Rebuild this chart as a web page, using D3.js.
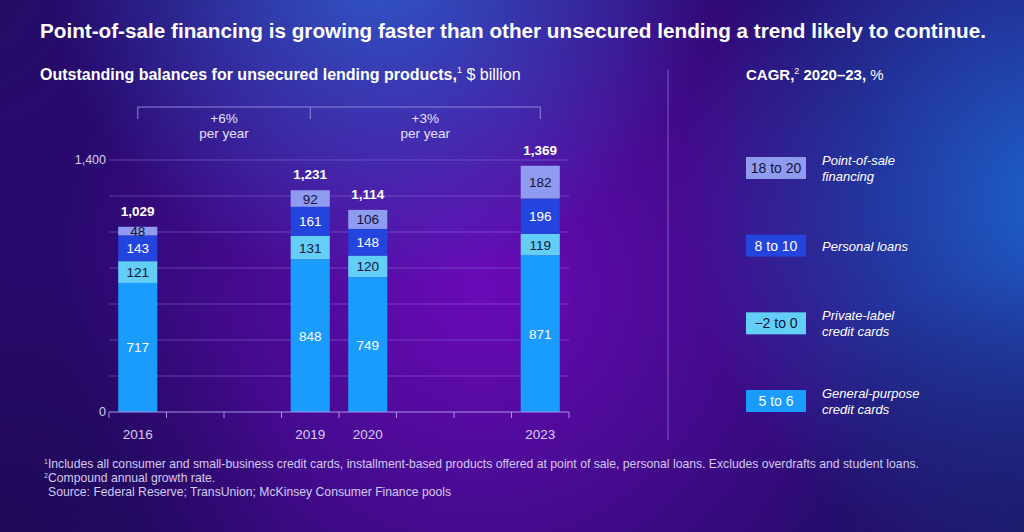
<!DOCTYPE html>
<meta charset="utf-8">
<title>Unsecured lending</title>
<style>
  html, body { margin: 0; padding: 0; background: #2a0a78; }
  svg { display: block; font-family: "Liberation Sans", Arial, sans-serif; }
</style>
<body>
<div id="chart"></div>
<script src="https://d3js.org/d3.v7.min.js"></script>
<script>

// data
var years = ["2016", "2017", "2018", "2019", "2020", "2021", "2022", "2023"];
var shownYears = ["2016", "2019", "2020", "2023"];
var generalPurpose = [717, 848, 749, 871];
var privateLabel = [121, 131, 120, 119];
var personalLoans = [143, 161, 148, 196];
var pointOfSale = [48, 92, 106, 182];
var totals = ["1,029", "1,231", "1,114", "1,369"];
var yTicks = [0, 200, 400, 600, 800, 1000, 1200, 1400];
var yTickLabels = {0: "0", 1400: "1,400"};

var seriesNames = ["General-purpose credit cards", "Private-label credit cards", "Personal loans", "Point-of-sale financing"];
var seriesColors = ["#1a9cfd", "#63cff6", "#2444de", "#8f9bee"];
var labelColors = ["#ffffff", "#13123a", "#ffffff", "#13123a"];

// legend, top to bottom
var legendRanges = ["18 to 20", "8 to 10", "\u22122 to 0", "5 to 6"];
var legendLines = [["Point-of-sale", "financing"], ["Personal loans"], ["Private-label", "credit cards"], ["General-purpose", "credit cards"]];
var legendSeries = [3, 2, 1, 0];

var periods = [
  {from: "2016", to: "2019", label: "+6%"},
  {from: "2019", to: "2023", label: "+3%"}
];

var W = 1024, H = 532;

var svg = d3.select("#chart").append("svg")
    .attr("width", W)
    .attr("height", H);

// background: layered gradients
var defs = svg.append("defs");
function radial(id, cx, cy, r, color, op) {
  var g = defs.append("radialGradient").attr("id", id)
      .attr("gradientUnits", "userSpaceOnUse")
      .attr("cx", cx).attr("cy", cy).attr("r", r);
  g.append("stop").attr("offset", "0%").attr("stop-color", color).attr("stop-opacity", op);
  g.append("stop").attr("offset", "100%").attr("stop-color", color).attr("stop-opacity", 0);
  svg.append("rect").attr("width", W).attr("height", H).attr("fill", "url(#" + id + ")");
}
svg.append("rect").attr("width", W).attr("height", H).attr("fill", "#280a6e");
radial("bgPurple", 480, 290, 420, "#6a0ab8", 1);
radial("bgTop", 380, -40, 330, "#2f5ccc", 0.95);
radial("bgRight", 1060, 200, 380, "#1c62cc", 1);
radial("bgBL", 0, 540, 300, "#1c0850", 0.8);
radial("bgTL", -40, -20, 160, "#201060", 0.8);
radial("bgBR", 1024, 532, 260, "#18206a", 0.7);

// titles
svg.append("text")
    .attr("x", 40).attr("y", 38)
    .attr("fill", "#ffffff")
    .attr("font-size", 20.7).attr("font-weight", "bold")
    .text("Point-of-sale financing is growing faster than other unsecured lending a trend likely to continue.");

var sub = svg.append("text")
    .attr("x", 40).attr("y", 80)
    .attr("fill", "#ffffff")
    .attr("font-size", 16);
sub.append("tspan").attr("font-weight", "bold").text("Outstanding balances for unsecured lending products,");
sub.append("tspan").attr("font-size", 9).attr("dy", -7).text("1");
sub.append("tspan").attr("dy", 7).text(" $ billion");

var cagr = svg.append("text")
    .attr("x", 746).attr("y", 80)
    .attr("fill", "#ffffff")
    .attr("font-size", 15);
cagr.append("tspan").attr("font-weight", "bold").text("CAGR,");
cagr.append("tspan").attr("font-size", 9).attr("dy", -6).text("2");
cagr.append("tspan").attr("dy", 6).attr("font-weight", "bold").text(" 2020\u201323,");
cagr.append("tspan").text(" %");

// divider
svg.append("line")
    .attr("x1", 668).attr("x2", 668)
    .attr("y1", 70).attr("y2", 440)
    .attr("stroke", "#9c8fe0").attr("stroke-opacity", 0.6);

// scales
var x = d3.scaleBand()
    .domain(years)
    .range([109, 569])
    .paddingInner(0.32)
    .paddingOuter(0.16);

var y = d3.scaleLinear()
    .domain([0, 1400])
    .range([412, 160]);

// gridlines
svg.append("g").selectAll("line")
  .data(yTicks.slice(1))
  .enter().append("line")
    .attr("x1", x.range()[0]).attr("x2", x.range()[1])
    .attr("y1", function(d) { return y(d); })
    .attr("y2", function(d) { return y(d); })
    .attr("stroke", "#9a7de0").attr("stroke-opacity", 0.45);

// y labels
svg.append("g").selectAll("text")
  .data(yTicks.filter(function(d) { return yTickLabels[d] !== undefined; }))
  .enter().append("text")
    .attr("x", 106)
    .attr("y", function(d) { return y(d) + 4; })
    .attr("text-anchor", "end")
    .attr("fill", "#d6cdf2")
    .attr("font-size", 12.5)
    .text(function(d) { return yTickLabels[d]; });

// stack
var rows = shownYears.map(function(yr, i) {
  return {year: yr, s0: generalPurpose[i], s1: privateLabel[i], s2: personalLoans[i], s3: pointOfSale[i], total: totals[i]};
});
var keys = ["s0", "s1", "s2", "s3"];
var stacked = d3.stack().keys(keys)(rows);

var layers = svg.append("g").selectAll("g")
  .data(stacked)
  .enter().append("g")
    .attr("fill", function(d, i) { return seriesColors[i]; });

layers.selectAll("rect")
  .data(function(d) { return d; })
  .enter().append("rect")
    .attr("x", function(d) { return x(d.data.year); })
    .attr("width", x.bandwidth())
    .attr("y", function(d) { return y(d[1]); })
    .attr("height", function(d) { return y(d[0]) - y(d[1]); });

layers.each(function(layer, li) {
  d3.select(this).selectAll("text")
    .data(layer)
    .enter().append("text")
      .attr("x", function(d) { return x(d.data.year) + x.bandwidth() / 2; })
      .attr("y", function(d) { return (y(d[0]) + y(d[1])) / 2 + 5; })
      .attr("text-anchor", "middle")
      .attr("fill", labelColors[li])
      .attr("font-size", 13.5)
      .text(function(d) { return d[1] - d[0]; });
});

// totals
svg.append("g").selectAll("text")
  .data(stacked[3])
  .enter().append("text")
    .attr("x", function(d) { return x(d.data.year) + x.bandwidth() / 2; })
    .attr("y", function(d) { return y(d[1]) - 11; })
    .attr("text-anchor", "middle")
    .attr("fill", "#ffffff")
    .attr("font-size", 13.5)
    .attr("font-weight", "bold")
    .text(function(d) { return d.data.total; });

// x axis
var axis = svg.append("g");
axis.append("line")
    .attr("x1", x.range()[0]).attr("x2", x.range()[1])
    .attr("y1", y(0)).attr("y2", y(0))
    .attr("stroke", "#a594e6");
axis.selectAll(".tick")
  .data(d3.range(years.length + 1))
  .enter().append("line")
    .attr("x1", function(i) { return x.range()[0] + i * x.step(); })
    .attr("x2", function(i) { return x.range()[0] + i * x.step(); })
    .attr("y1", y(0)).attr("y2", y(0) + 6)
    .attr("stroke", "#a594e6");
axis.selectAll("text")
  .data(shownYears)
  .enter().append("text")
    .attr("x", function(d) { return x(d) + x.bandwidth() / 2; })
    .attr("y", 439)
    .attr("text-anchor", "middle")
    .attr("fill", "#d6cdf2")
    .attr("font-size", 13.5)
    .text(function(d) { return d; });

// growth brackets
var bracketY = 107;
var bracket = svg.append("g");
var cx = function(yr) { return x(yr) + x.bandwidth() / 2; };
bracket.append("line")
    .attr("x1", cx(periods[0].from)).attr("x2", cx(periods[periods.length - 1].to))
    .attr("y1", bracketY).attr("y2", bracketY)
    .attr("stroke", "#8f86dc");
var ends = [periods[0].from].concat(periods.map(function(p) { return p.to; }));
bracket.selectAll(".end")
  .data(ends)
  .enter().append("line")
    .attr("x1", cx).attr("x2", cx)
    .attr("y1", bracketY).attr("y2", bracketY + 12)
    .attr("stroke", "#8f86dc");
var plabels = bracket.selectAll(".pl")
  .data(periods)
  .enter().append("text")
    .attr("x", function(p) { return (cx(p.from) + cx(p.to)) / 2; })
    .attr("y", 123)
    .attr("text-anchor", "middle")
    .attr("fill", "#e6e0fa")
    .attr("font-size", 13.5);
plabels.append("tspan").text(function(p) { return p.label; });
plabels.append("tspan")
    .attr("x", function(p) { return (cx(p.from) + cx(p.to)) / 2; })
    .attr("dy", 15)
    .text("per year");

// legend
var legY = d3.scalePoint().domain(d3.range(legendRanges.length)).range([168, 401]);
var leg = svg.append("g").selectAll("g")
  .data(legendRanges)
  .enter().append("g")
    .attr("transform", function(d, i) { return "translate(746," + legY(i) + ")"; });
leg.append("rect")
    .attr("x", 0).attr("y", -11)
    .attr("width", 60).attr("height", 22)
    .attr("fill", function(d, i) { return seriesColors[legendSeries[i]]; });
leg.append("text")
    .attr("x", 30).attr("y", 5)
    .attr("text-anchor", "middle")
    .attr("fill", function(d, i) { return labelColors[legendSeries[i]]; })
    .attr("font-size", 14)
    .text(function(d) { return d; });
leg.append("text")
    .attr("x", 76)
    .attr("y", function(d, i) { return legendLines[i].length > 1 ? -3 : 5; })
    .attr("fill", "#ffffff")
    .attr("font-size", 13)
    .attr("font-style", "italic")
    .selectAll("tspan")
    .data(function(d, i) { return legendLines[i]; })
    .enter().append("tspan")
      .attr("x", 76)
      .attr("dy", function(d, j) { return j ? 16 : 0; })
      .text(function(d) { return d; });

// footnotes
var notes = svg.append("g")
    .attr("fill", "#d4cbf0")
    .attr("font-size", 12.2);
var n1 = notes.append("text").attr("x", 44).attr("y", 468);
n1.append("tspan").attr("font-size", 7).attr("dy", -4).text("1");
n1.append("tspan").attr("dy", 4).text("Includes all consumer and small-business credit cards, installment-based products offered at point of sale, personal loans. Excludes overdrafts and student loans.");
var n2 = notes.append("text").attr("x", 44).attr("y", 482);
n2.append("tspan").attr("font-size", 7).attr("dy", -4).text("2");
n2.append("tspan").attr("dy", 4).text("Compound annual growth rate.");
notes.append("text").attr("x", 48).attr("y", 496)
    .text("Source: Federal Reserve; TransUnion; McKinsey Consumer Finance pools");

</script>
</body>
